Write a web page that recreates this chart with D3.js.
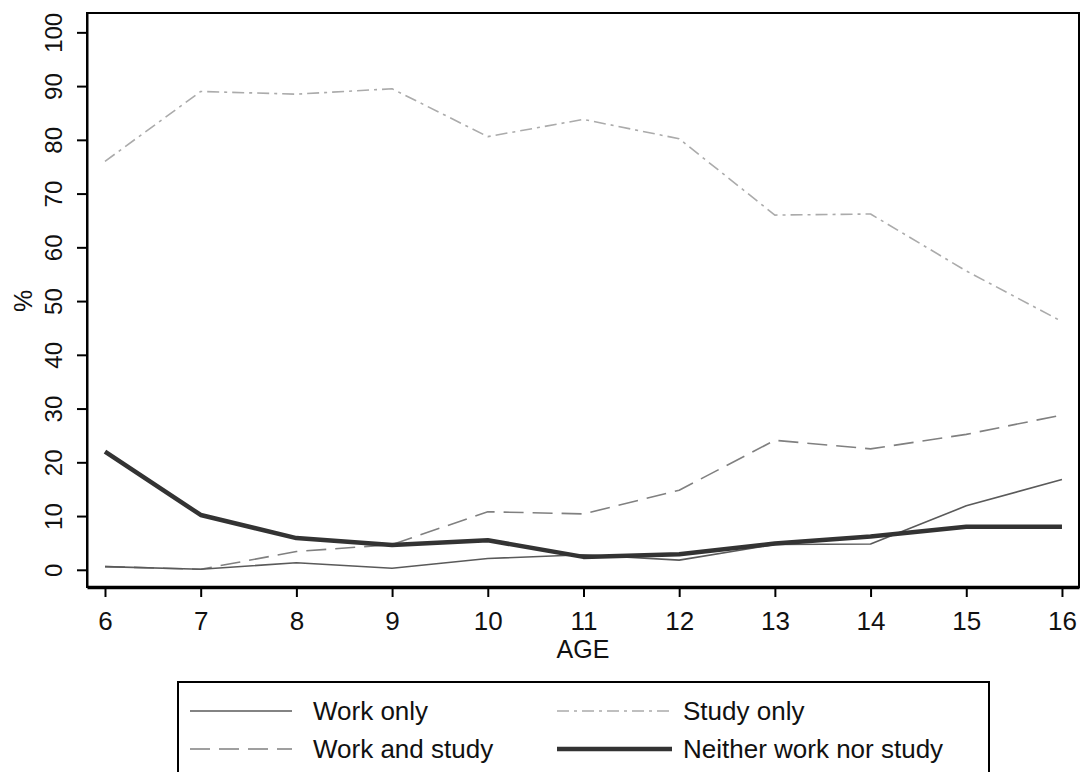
<!DOCTYPE html>
<html>
<head>
<meta charset="utf-8">
<script src="https://cdn.jsdelivr.net/npm/d3@7"></script>
<style>
  body { margin: 0; background: #fff; }
  text { font-family: "Liberation Sans", Arial, sans-serif; fill: #111; }
</style>
</head>
<body>
<div id="chart"></div>
<script>
var ages = [6, 7, 8, 9, 10, 11, 12, 13, 14, 15, 16];
var workOnly = [0.6, 0.1, 1.3, 0.3, 2.1, 2.8, 1.8, 4.7, 4.8, 11.9, 16.8];
var studyOnly = [76, 89, 88.5, 89.5, 80.6, 83.8, 80.2, 66, 66.2, 55.6, 46.2];
var workAndStudy = [0.6, 0.1, 3.4, 4.7, 10.8, 10.4, 14.8, 24.1, 22.5, 25.2, 28.8];
var neither = [22, 10.2, 5.9, 4.6, 5.5, 2.4, 2.9, 4.9, 6.2, 8, 8];
var yTicks = [0, 10, 20, 30, 40, 50, 60, 70, 80, 90, 100];

var svgWidth = 1083;
var svgHeight = 772;

var margin = { top: 13, right: 4, bottom: 185, left: 87 };
var width = svgWidth - margin.left - margin.right;
var height = svgHeight - margin.top - margin.bottom;

var svg = d3.select("#chart")
  .append("svg")
  .attr("width", svgWidth)
  .attr("height", svgHeight);

var chartGroup = svg.append("g")
  .attr("transform", `translate(${margin.left}, ${margin.top})`);

var xScale = d3.scaleLinear()
  .domain([5.812, 16.178])
  .range([0, width]);

var yScale = d3.scaleLinear()
  .domain([-3.2, 103.6])
  .range([height, 0]);

// frame
chartGroup.append("rect")
  .attr("width", width)
  .attr("height", height)
  .attr("fill", "none")
  .attr("stroke", "#000")
  .attr("stroke-width", 2);

var bottomAxis = d3.axisBottom(xScale).tickValues(ages).tickSize(10).tickPadding(15).tickSizeOuter(0);
var xAxis = chartGroup.append("g")
  .attr("transform", `translate(0, ${height})`)
  .call(bottomAxis);
xAxis.select(".domain").attr("stroke-width", 3.5);
xAxis.selectAll(".tick line").attr("stroke-width", 2);
xAxis.selectAll(".tick text")
  .attr("font-size", 26)
  .attr("fill", "#111");

var leftAxis = d3.axisLeft(yScale).tickValues(yTicks).tickSize(10).tickSizeOuter(0);
var yAxis = chartGroup.append("g").call(leftAxis);
yAxis.select(".domain").attr("stroke-width", 2);
yAxis.selectAll(".tick line").attr("stroke-width", 2);
yAxis.selectAll(".tick text")
  .attr("font-size", 24)
  .attr("fill", "#111")
  .attr("x", 0)
  .attr("dy", 0)
  .attr("text-anchor", "middle")
  .attr("transform", "translate(-25, 0) rotate(-90)");

var series = [
  { name: "Study only", values: studyOnly, color: "#ababab", width: 1.6, dash: "12,5,3,5" },
  { name: "Work and study", values: workAndStudy, color: "#808080", width: 1.6, dash: "20,9" },
  { name: "Work only", values: workOnly, color: "#5a5a5a", width: 1.6, dash: null },
  { name: "Neither work nor study", values: neither, color: "#333", width: 4.5, dash: null }
];

var line = d3.line()
  .x(function(d, i) { return xScale(ages[i]); })
  .y(function(d) { return yScale(d); });

chartGroup.selectAll(".series")
  .data(series)
  .enter()
  .append("path")
  .attr("class", "series")
  .attr("d", function(d) { return line(d.values); })
  .attr("fill", "none")
  .attr("stroke", function(d) { return d.color; })
  .attr("stroke-width", function(d) { return d.width; })
  .attr("stroke-dasharray", function(d) { return d.dash; })
  .attr("stroke-linejoin", "round");

// axis titles
svg.append("text")
  .attr("transform", "translate(32, 301) rotate(-90)")
  .attr("text-anchor", "middle")
  .attr("font-size", 25)
  .text("%");

svg.append("text")
  .attr("x", 583)
  .attr("y", 658)
  .attr("text-anchor", "middle")
  .attr("font-size", 25)
  .text("AGE");

// legend
var legend = svg.append("g");
legend.append("rect")
  .attr("x", 178)
  .attr("y", 682)
  .attr("width", 811)
  .attr("height", 110)
  .attr("fill", "none")
  .attr("stroke", "#000")
  .attr("stroke-width", 2);

var legendItems = [
  { s: series[2], x: 190, len: 102, tx: 313, y: 711 },
  { s: series[0], x: 557, len: 115, tx: 683, y: 711 },
  { s: series[1], x: 190, len: 102, tx: 313, y: 749 },
  { s: series[3], x: 557, len: 115, tx: 683, y: 749 }
];

var items = legend.selectAll(".item")
  .data(legendItems)
  .enter()
  .append("g")
  .attr("class", "item");

items.append("line")
  .attr("x1", function(d) { return d.x; })
  .attr("x2", function(d) { return d.x + d.len; })
  .attr("y1", function(d) { return d.y; })
  .attr("y2", function(d) { return d.y; })
  .attr("stroke", function(d) { return d.s.color; })
  .attr("stroke-width", function(d) { return d.s.width; })
  .attr("stroke-dasharray", function(d) { return d.s.dash; });

items.append("text")
  .attr("x", function(d) { return d.tx; })
  .attr("y", function(d) { return d.y; })
  .attr("dy", "0.35em")
  .attr("font-size", 26)
  .text(function(d) { return d.s.name; });
</script>
</body>
</html>
